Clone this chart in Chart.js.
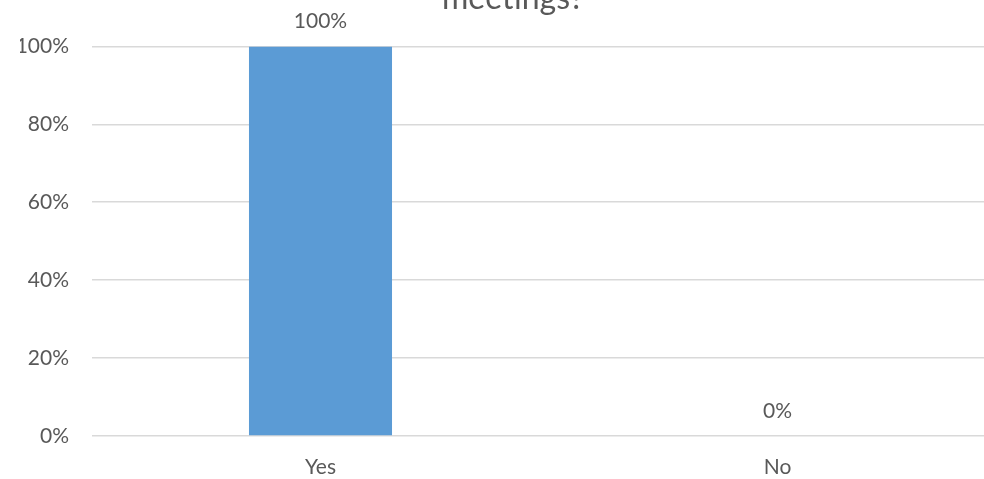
<!DOCTYPE html>
<html>
<head>
<meta charset="utf-8">
<script src="https://cdn.jsdelivr.net/npm/chart.js@4"></script>
<style>
  html, body { margin: 0; padding: 0; background: #fff; overflow: hidden; width: 984px; height: 479px; }
  #wrap { position: absolute; left: 0; top: -60px; width: 1026px; height: 539px; }
</style>
</head>
<body>
<div id="wrap"><canvas id="surveyChart"></canvas></div>
<script>
// survey answers
const categories = ['Yes', 'No'];
const shares = [1, 0];
const yTicks = [0, 0.2, 0.4, 0.6, 0.8, 1];
const titleText = 'meetings?';

const textColor = '#595959';
const fontFamily = 'Lato, "Open Sans", sans-serif';

function pct(v) {
    return Math.round(v * 100) + '%';
}

// value labels above each bar
const barLabels = {
    id: 'barLabels',
    afterDatasetsDraw(chart) {
        const ctx = chart.ctx;
        const meta = chart.getDatasetMeta(0);
        ctx.save();
        ctx.font = '21px ' + fontFamily;
        ctx.fillStyle = textColor;
        ctx.textAlign = 'center';
        ctx.textBaseline = 'middle';
        meta.data.forEach(function(bar, i) {
            ctx.fillText(pct(shares[i]), bar.x, bar.y - 25);
        });
        ctx.restore();
    }
};

document.addEventListener('DOMContentLoaded', function() {
    const ctx = document.getElementById('surveyChart').getContext('2d');

    new Chart(ctx, {
        type: 'bar',
        data: {
            labels: categories,
            datasets: [{
                data: shares,
                backgroundColor: '#5B9BD5',
                borderWidth: 0,
                categoryPercentage: 1,
                barPercentage: 0.313
            }]
        },
        options: {
            responsive: true,
            maintainAspectRatio: false,
            animation: false,
            layout: { padding: { left: 20, right: 20, top: 0, bottom: 0 } },
            plugins: {
                legend: { display: false },
                tooltip: { enabled: false },
                title: {
                    display: true,
                    text: titleText,
                    color: textColor,
                    font: { family: fontFamily, size: 32, weight: 'normal', lineHeight: 1.2 },
                    padding: { top: 39, bottom: 29 }
                }
            },
            scales: {
                x: {
                    grid: { display: false },
                    border: { display: false },
                    ticks: { color: textColor, font: { family: fontFamily, size: 21 }, padding: 11 },
                    afterFit: function(scale) { scale.height = 43; }
                },
                y: {
                    min: 0,
                    max: 1,
                    afterBuildTicks: function(scale) {
                        scale.ticks = yTicks.map(function(v) { return { value: v }; });
                    },
                    grid: { color: '#D9D9D9', lineWidth: 1.5, drawTicks: false },
                    border: { display: false },
                    ticks: {
                        color: textColor,
                        font: { family: fontFamily, size: 21 },
                        padding: 23,
                        callback: function(v) { return pct(v); }
                    },
                    afterFit: function(scale) { scale.width = 72; }
                }
            }
        },
        plugins: [barLabels]
    });
});
</script>
</body>
</html>
